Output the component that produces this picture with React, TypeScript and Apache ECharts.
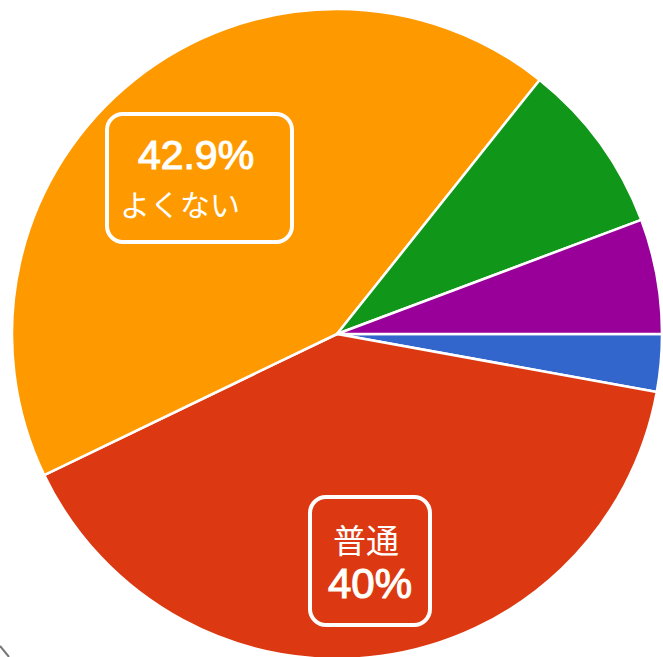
import React, { useEffect, useRef } from "react";
import * as echarts from "echarts";

const categories = ["とても良い", "普通", "よくない", "良い", "とても悪い"];
const values = [1, 14, 15, 3, 2];
const colors = ["#3366cc", "#dc3912", "#ff9900", "#109618", "#990099"];
const labelPercents = ["42.9%", "40%"];
const labelNames = ["よくない", "普通"];

export default function App() {
  const ref = useRef<HTMLDivElement>(null);
  useEffect(() => {
    document.body.style.margin = "0";
    const chart = echarts.init(ref.current!, null, { renderer: "svg" });
    chart.setOption({
      animation: false,
      backgroundColor: "#ffffff",
      series: [
        {
          type: "pie",
          center: [337, 334],
          radius: 325,
          startAngle: 0,
          clockwise: true,
          label: { show: false },
          labelLine: { show: false },
          emphasis: { disabled: true },
          itemStyle: { borderColor: "#ffffff", borderWidth: 2.5 },
          data: categories.map((name, i) => ({
            name,
            value: values[i],
            itemStyle: { color: colors[i] },
          })),
        },
      ],
      graphic: {
        elements: [
          {
            type: "rect",
            z: 100,
            shape: { x: 107, y: 114, width: 185, height: 128, r: 16 },
            style: { fill: "none", stroke: "#ffffff", lineWidth: 4 },
          },
          {
            type: "text",
            z: 100,
            x: 196,
            y: 155,
            style: {
              text: labelPercents[0],
              fill: "#ffffff",
              stroke: "#fffbe8",
              lineWidth: 1.2,
              font: "41px 'Liberation Sans', Arial, sans-serif",
              align: "center",
              verticalAlign: "middle",
            },
          },
          {
            type: "text",
            z: 100,
            x: 180,
            y: 203,
            style: {
              text: labelNames[0],
              fill: "#ffffff",
              font: "30px 'Noto Sans CJK JP', sans-serif",
              align: "center",
              verticalAlign: "middle",
            },
          },
          {
            type: "rect",
            z: 100,
            shape: { x: 310, y: 497, width: 120, height: 128, r: 16 },
            style: { fill: "none", stroke: "#ffffff", lineWidth: 4 },
          },
          {
            type: "text",
            z: 100,
            x: 366,
            y: 539,
            style: {
              text: labelNames[1],
              fill: "#ffffff",
              font: "33px 'Noto Sans CJK JP', sans-serif",
              align: "center",
              verticalAlign: "middle",
            },
          },
          {
            type: "text",
            z: 100,
            x: 370,
            y: 583,
            style: {
              text: labelPercents[1],
              fill: "#ffffff",
              stroke: "#fffbe8",
              lineWidth: 1.2,
              font: "42px 'Liberation Sans', Arial, sans-serif",
              align: "center",
              verticalAlign: "middle",
            },
          },
          {
            type: "line",
            z: 100,
            shape: { x1: 0, y1: 646, x2: 9, y2: 657 },
            style: { stroke: "#777777", lineWidth: 2 },
          },
        ],
      },
    });
    return () => chart.dispose();
  }, []);
  return (
    <div
      ref={ref}
      style={{ position: "absolute", left: 0, top: 0, width: 663, height: 657 }}
    />
  );
}
